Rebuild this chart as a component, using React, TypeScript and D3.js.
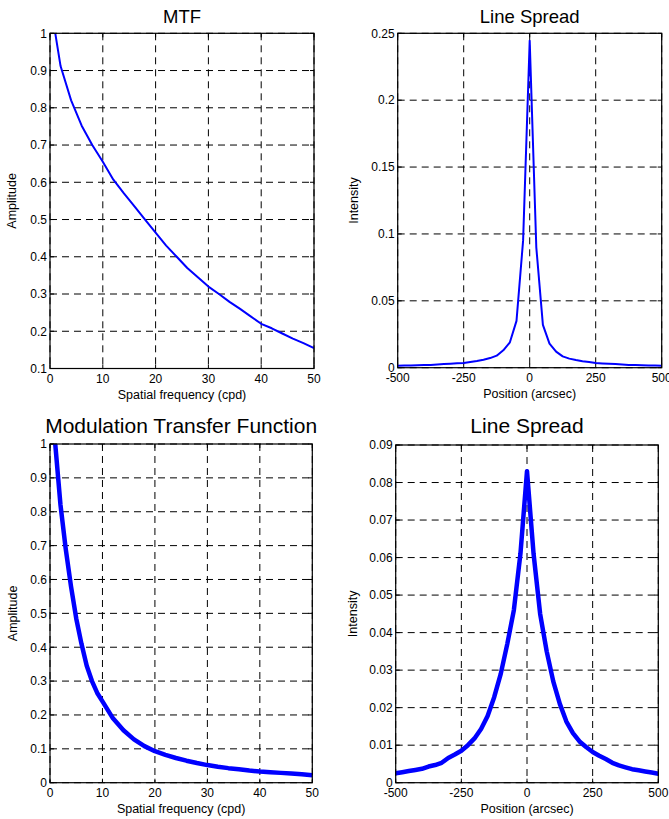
import React from "react";
import * as d3 from "d3";

// ---------- data ----------
const mtfFreqTop = [1, 2, 4, 6, 8, 10, 12, 14, 16, 18, 20, 22, 24, 26, 28, 30, 32, 34, 36, 38, 40, 42, 44, 46, 48, 50];
const mtfAmpTop = [1.0, 0.912, 0.82, 0.752, 0.7, 0.655, 0.607, 0.57, 0.535, 0.5, 0.465, 0.43, 0.4, 0.37, 0.345, 0.32, 0.3, 0.279, 0.26, 0.24, 0.22, 0.208, 0.194, 0.18, 0.168, 0.155];

const lsfPos = [-500, -475, -450, -425, -400, -375, -350, -325, -300, -275, -250, -225, -200, -175, -150, -125, -100, -75, -50, -25, 0,
  25, 50, 75, 100, 125, 150, 175, 200, 225, 250, 275, 300, 325, 350, 375, 400, 425, 450, 475, 500];
const lsfIntTop = [0.0015, 0.0016, 0.0017, 0.0018, 0.002, 0.0021, 0.0024, 0.0027, 0.003, 0.0033, 0.0035, 0.0042, 0.005, 0.006, 0.0072, 0.009, 0.013, 0.019, 0.035, 0.095, 0.2445,
  0.09, 0.032, 0.018, 0.012, 0.0085, 0.0068, 0.0057, 0.0048, 0.0042, 0.0035, 0.0032, 0.003, 0.0027, 0.0024, 0.0021, 0.002, 0.0018, 0.0017, 0.0016, 0.0015];

const mtfFreqBottom = [1, 2, 3, 4, 5, 6, 7, 8, 9, 10, 12, 14, 16, 18, 20, 22, 24, 26, 28, 30, 32, 34, 36, 38, 40, 42, 44, 46, 48, 50];
const mtfAmpBottom = [1.0, 0.82, 0.69, 0.58, 0.485, 0.41, 0.345, 0.3, 0.265, 0.24, 0.19, 0.155, 0.128, 0.108, 0.093, 0.082, 0.073, 0.065, 0.058, 0.052, 0.047, 0.043, 0.04, 0.036, 0.033, 0.031, 0.029, 0.027, 0.025, 0.022];

const lsfIntBottom = [0.0025, 0.0028, 0.0031, 0.0034, 0.0037, 0.0043, 0.0047, 0.0053, 0.0066, 0.0075, 0.0085, 0.01, 0.0118, 0.0143, 0.0178, 0.0228, 0.029, 0.037, 0.046, 0.061, 0.083,
  0.061, 0.045, 0.035, 0.027, 0.021, 0.0163, 0.0132, 0.011, 0.0095, 0.0082, 0.0072, 0.0063, 0.0053, 0.0046, 0.0041, 0.0036, 0.0033, 0.003, 0.0027, 0.0024];

const mtfXTicks = [0, 10, 20, 30, 40, 50];
const lsfXTicks = [-500, -250, 0, 250, 500];
const mtfYTicksTop = [0.1, 0.2, 0.3, 0.4, 0.5, 0.6, 0.7, 0.8, 0.9, 1];
const lsfYTicksTop = [0, 0.05, 0.1, 0.15, 0.2, 0.25];
const mtfYTicksBottom = [0, 0.1, 0.2, 0.3, 0.4, 0.5, 0.6, 0.7, 0.8, 0.9, 1];
const lsfYTicksBottom = [0, 0.01, 0.02, 0.03, 0.04, 0.05, 0.06, 0.07, 0.08, 0.09];

const FONT = "Arial, 'Liberation Sans', Helvetica, sans-serif";

type PanelProps = {
  id: string;
  l: number; r: number; t: number; b: number;
  xDomain: [number, number]; yDomain: [number, number];
  xTicks: number[]; yTicks: number[];
  xs: number[]; ys: number[];
  lw: number;
  title: string; titleSize: number; titleY: number;
  xlabel: string; ylabel: string; ylabelX: number;
};

const fmt = (v: number) => String(+v.toFixed(4));

function Panel(p: PanelProps) {
  const x = d3.scaleLinear().domain(p.xDomain).range([p.l, p.r]);
  const y = d3.scaleLinear().domain(p.yDomain).range([p.b, p.t]);
  const line = d3.line<number>().x((_, i) => x(p.xs[i])).y((d) => y(d));
  const tl = 4;
  const dash = "7,5";
  const cx = (p.l + p.r) / 2;
  const cy = (p.t + p.b) / 2;
  return (
    <g>
      <defs>
        <clipPath id={p.id}>
          <rect x={p.l} y={p.t} width={p.r - p.l} height={p.b - p.t} />
        </clipPath>
      </defs>
      <rect x={p.l} y={p.t} width={p.r - p.l} height={p.b - p.t} fill="#fff" />
      {/* grid */}
      {p.xTicks.map((v) => (
        <line key={"gx" + v} x1={x(v)} x2={x(v)} y1={p.t} y2={p.b} stroke="#000" strokeWidth={1} strokeDasharray={dash} />
      ))}
      {p.yTicks.map((v) => (
        <line key={"gy" + v} x1={p.l} x2={p.r} y1={y(v)} y2={y(v)} stroke="#000" strokeWidth={1} strokeDasharray={dash} />
      ))}
      {/* ticks */}
      {p.xTicks.map((v) => (
        <g key={"tx" + v}>
          <line x1={x(v)} x2={x(v)} y1={p.b} y2={p.b - tl} stroke="#000" />
          <line x1={x(v)} x2={x(v)} y1={p.t} y2={p.t + tl} stroke="#000" />
        </g>
      ))}
      {p.yTicks.map((v) => (
        <g key={"ty" + v}>
          <line x1={p.l} x2={p.l + tl} y1={y(v)} y2={y(v)} stroke="#000" />
          <line x1={p.r} x2={p.r - tl} y1={y(v)} y2={y(v)} stroke="#000" />
        </g>
      ))}
      {/* curve */}
      <path d={line(p.ys) || ""} fill="none" stroke="#0000ff" strokeWidth={p.lw} strokeLinejoin="round" clipPath={`url(#${p.id})`} />
      {/* box */}
      <rect x={p.l} y={p.t} width={p.r - p.l} height={p.b - p.t} fill="none" stroke="#000" strokeWidth={1.2} />
      {/* tick labels */}
      {p.xTicks.map((v) => (
        <text key={"lx" + v} x={x(v)} y={p.b + 14.5} textAnchor="middle" fontSize={12} fontFamily={FONT} fill="#000">
          {fmt(v)}
        </text>
      ))}
      {p.yTicks.map((v) => (
        <text key={"ly" + v} x={p.l - 3} y={y(v) + 4.3} textAnchor="end" fontSize={12} fontFamily={FONT} fill="#000">
          {fmt(v)}
        </text>
      ))}
      {/* labels */}
      <text x={cx} y={p.b + 30.5} textAnchor="middle" fontSize={12.5} fontFamily={FONT} fill="#000">
        {p.xlabel}
      </text>
      <text transform={`translate(${p.ylabelX},${cy}) rotate(-90)`} textAnchor="middle" fontSize={12.5} fontFamily={FONT} fill="#000">
        {p.ylabel}
      </text>
      <text x={cx} y={p.titleY} textAnchor="middle" fontSize={p.titleSize} fontFamily={FONT} fill="#000">
        {p.title}
      </text>
    </g>
  );
}

export default function App() {
  return (
    <svg
      width={669}
      height={819}
      style={{ position: "absolute", left: 0, top: 0, background: "#fff" }}
    >
      <rect x={0} y={0} width={669} height={819} fill="#fff" />
      <Panel
        id="c1" l={50} r={314} t={33.3} b={368.5}
        xDomain={[0, 50]} yDomain={[0.1, 1]}
        xTicks={mtfXTicks} yTicks={mtfYTicksTop}
        xs={mtfFreqTop} ys={mtfAmpTop} lw={2}
        title="MTF" titleSize={18.5} titleY={22.5}
        xlabel="Spatial frequency (cpd)" ylabel="Amplitude" ylabelX={15.5}
      />
      <Panel
        id="c2" l={397.7} r={661.7} t={33.3} b={367.7}
        xDomain={[-500, 500]} yDomain={[0, 0.25]}
        xTicks={lsfXTicks} yTicks={lsfYTicksTop}
        xs={lsfPos} ys={lsfIntTop} lw={2}
        title="Line Spread" titleSize={18.5} titleY={22.5}
        xlabel="Position (arcsec)" ylabel="Intensity" ylabelX={357.5}
      />
      <Panel
        id="c3" l={50} r={312.3} t={444} b={782.7}
        xDomain={[0, 50]} yDomain={[0, 1]}
        xTicks={mtfXTicks} yTicks={mtfYTicksBottom}
        xs={mtfFreqBottom} ys={mtfAmpBottom} lw={4.5}
        title="Modulation Transfer Function" titleSize={21} titleY={432.5}
        xlabel="Spatial frequency (cpd)" ylabel="Amplitude" ylabelX={16.5}
      />
      <Panel
        id="c4" l={395.7} r={658.3} t={445} b={782.7}
        xDomain={[-500, 500]} yDomain={[0, 0.09]}
        xTicks={lsfXTicks} yTicks={lsfYTicksBottom}
        xs={lsfPos} ys={lsfIntBottom} lw={4.5}
        title="Line Spread" titleSize={21} titleY={433}
        xlabel="Position (arcsec)" ylabel="Intensity" ylabelX={356.5}
      />
    </svg>
  );
}
